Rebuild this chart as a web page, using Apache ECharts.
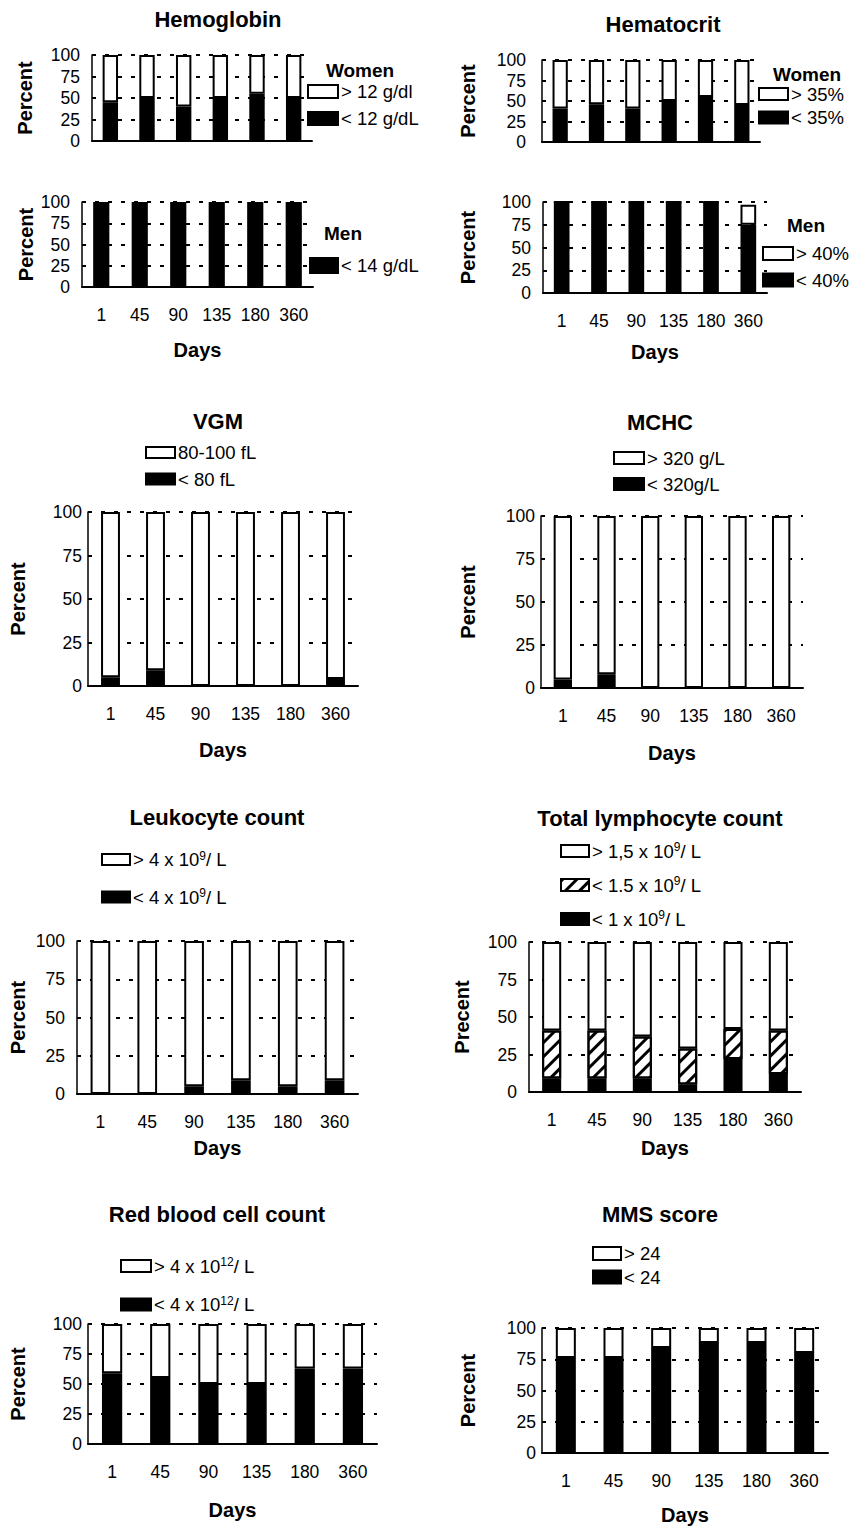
<!DOCTYPE html>
<html><head><meta charset="utf-8">
<script src="https://cdn.jsdelivr.net/npm/echarts@6/dist/echarts.min.js"></script>
<style>html,body{margin:0;padding:0;background:#fff}#c{width:851px;height:1526px}</style>
</head><body><div id="c"></div>
<script>
// ---------- data ----------
const days = ['1', '45', '90', '135', '180', '360'];
const yTicks = [0, 25, 50, 75, 100];

const hbWomenLow  = [45, 50, 40, 50, 55, 50];
const hbWomenHigh = [55, 50, 60, 50, 45, 50];
const hbMenLow    = [100, 100, 100, 100, 100, 100];

const htWomenLow  = [41, 46, 41, 50, 55, 45];
const htWomenHigh = [59, 54, 59, 50, 45, 55];
const htMenLow    = [100, 100, 100, 100, 100, 75];
const htMenHigh   = [0, 0, 0, 0, 0, 22];

const vgmLow    = [5, 9, 0, 0, 0, 4];
const vgmNormal = [95, 91, 100, 100, 100, 96];

const mchcLow  = [5, 8, 0, 0, 0, 0];
const mchcHigh = [95, 92, 100, 100, 100, 100];

const leukLow  = [0, 0, 5, 9, 5, 9];
const leukHigh = [100, 100, 95, 91, 95, 91];

const lymphBelow1  = [9, 9, 9, 5, 22, 12];
const lymphBelow15 = [32, 32, 28, 24, 20, 29];
const lymphAbove15 = [59, 59, 63, 71, 58, 59];

const rbcLow  = [59, 55, 50, 50, 63, 63];
const rbcHigh = [41, 45, 50, 50, 37, 37];

const mmsLow  = [76, 76, 84, 88, 88, 80];
const mmsHigh = [24, 24, 16, 12, 12, 20];

// ---------- styling / layout ----------
const FONT = '"Liberation Sans", Arial, Helvetica, sans-serif';
const W = {kind: 'white'}, B = {kind: 'black'}, H = {kind: 'hatch'};

const panels = [
  {grid: {left: 92, top: 55, width: 220, height: 86}, xLabels: false, yName: 'Percent', yGap: 57, yMargin: 12,
   series: [{name: '< 12 g/dL', data: hbWomenLow, ...B}, {name: '> 12 g/dl', data: hbWomenHigh, ...W}],
   legend: {left: 307, top: 81.5, gap: 7, w: 30, h: 13, items: ['> 12 g/dl', '< 12 g/dL']}},
  {grid: {left: 82, top: 202, width: 231, height: 85}, xLabels: true, xGap: 53, yName: 'Percent', yGap: 46, yMargin: 12,
   series: [{name: '< 14 g/dL', data: hbMenLow, ...B}],
   legend: {left: 309, top: 255.5, gap: 7, w: 28, h: 15, items: ['< 14 g/dL']}},
  {grid: {left: 542, top: 60, width: 218, height: 82}, xLabels: false, yName: 'Percent', yGap: 64, yMargin: 16,
   series: [{name: '< 35%', data: htWomenLow, ...B}, {name: '> 35%', data: htWomenHigh, ...W}],
   legend: {left: 758, top: 84, gap: 3.5, w: 29, h: 12, items: ['> 35%', '< 35%']}},
  {grid: {left: 543, top: 202, width: 224, height: 91}, xLabels: true, xGap: 49, yName: 'Percent', yGap: 65, yMargin: 12,
   series: [{name: '< 40%', data: htMenLow, ...B}, {name: '> 40%', data: htMenHigh, ...W}],
   legend: {left: 762, top: 243.5, gap: 6.5, w: 30, h: 13, items: ['> 40%', '< 40%']}},
  {grid: {left: 88, top: 512, width: 270, height: 174}, xLabels: true, xGap: 54, yName: 'Percent', yGap: 60, yMargin: 6,
   series: [{name: '< 80 fL', data: vgmLow, ...B}, {name: '80-100 fL', data: vgmNormal, ...W}],
   legend: {left: 145, top: 442.5, gap: 6.5, w: 29, h: 11, items: ['80-100 fL', '< 80 fL']}},
  {grid: {left: 541, top: 516, width: 262, height: 172}, xLabels: true, xGap: 55, yName: 'Percent', yGap: 63, yMargin: 6,
   series: [{name: '< 320g/L', data: mchcLow, ...B}, {name: '> 320 g/L', data: mchcHigh, ...W}],
   legend: {left: 613, top: 448, gap: 6, w: 30, h: 12, items: ['> 320 g/L', '< 320g/L']}},
  {grid: {left: 77, top: 941, width: 281, height: 153}, xLabels: true, xGap: 44, yName: 'Percent', yGap: 49, yMargin: 12,
   series: [{name: '< 4 x 10{sup|9}/ L', data: leukLow, ...B}, {name: '> 4 x 10{sup|9}/ L', data: leukHigh, ...W}],
   legend: {left: 101, top: 849.5, gap: 13.5, w: 28, h: 11, items: ['> 4 x 10{sup|9}/ L', '< 4 x 10{sup|9}/ L']}},
  {grid: {left: 529, top: 942, width: 272, height: 150}, xLabels: true, xGap: 46, yName: 'Precent', yGap: 57, yMargin: 12,
   series: [{name: '< 1 x 10{sup|9}/ L', data: lymphBelow1, ...B}, {name: '< 1.5 x 10{sup|9}/ L', data: lymphBelow15, ...H},
            {name: '> 1,5 x 10{sup|9}/ L', data: lymphAbove15, ...W}],
   legend: {left: 560, top: 841, gap: 10, w: 28, h: 12, items: ['> 1,5 x 10{sup|9}/ L', '< 1.5 x 10{sup|9}/ L', '< 1 x 10{sup|9}/ L']}},
  {grid: {left: 88, top: 1324, width: 289, height: 120}, xLabels: true, xGap: 56, yName: 'Percent', yGap: 60, yMargin: 6,
   series: [{name: '< 4 x 10{sup|12}/ L', data: rbcLow, ...B}, {name: '> 4 x 10{sup|12}/ L', data: rbcHigh, ...W}],
   legend: {left: 120, top: 1256, gap: 14.5, w: 30, h: 12, items: ['> 4 x 10{sup|12}/ L', '< 4 x 10{sup|12}/ L']}},
  {grid: {left: 542, top: 1328, width: 286, height: 125}, xLabels: true, xGap: 52, yName: 'Percent', yGap: 64, yMargin: 6,
   series: [{name: '< 24', data: mmsLow, ...B}, {name: '> 24', data: mmsHigh, ...W}],
   legend: {left: 592, top: 1243.5, gap: 3.5, w: 28, h: 13, items: ['> 24', '< 24']}}
];

const titles = [
  {text: 'Hemoglobin', x: 218, y: 8, size: 22},
  {text: 'Hematocrit', x: 663, y: 13, size: 22},
  {text: 'VGM', x: 218, y: 410, size: 22},
  {text: 'MCHC', x: 660, y: 411, size: 22},
  {text: 'Leukocyte count', x: 217, y: 806, size: 22},
  {text: 'Total lymphocyte count', x: 660, y: 807, size: 22},
  {text: 'Red blood cell count', x: 217, y: 1203, size: 22},
  {text: 'MMS score', x: 660, y: 1203, size: 22},
  {text: 'Women', x: 360, y: 61, size: 19},
  {text: 'Men', x: 343, y: 224, size: 19},
  {text: 'Women', x: 807, y: 65, size: 19},
  {text: 'Men', x: 806, y: 216, size: 19}
];

const hatchDecal = {
  symbol: 'rect', symbolSize: 1,
  dashArrayX: [[1, 0]], dashArrayY: [2.5, 7],
  rotation: -Math.PI / 4, color: '#000', backgroundColor: '#fff'
};
function styleFor(kind) {
  if (kind === 'black') return {color: '#000', borderColor: '#000', borderWidth: 2};
  if (kind === 'hatch') return {color: '#fff', borderColor: '#000', borderWidth: 2, decal: hatchDecal};
  return {color: '#fff', borderColor: '#000', borderWidth: 2};
}

const option = {
  backgroundColor: '#fff',
  animation: false,
  textStyle: {fontFamily: FONT, color: '#000'},
  title: titles.map(t => ({
    text: t.text, left: t.x, top: t.y, textAlign: 'center', padding: 0,
    textStyle: {fontFamily: FONT, fontWeight: 'bold', fontSize: t.size, color: '#000'}
  })),
  grid: panels.map(p => Object.assign({containLabel: false}, p.grid)),
  xAxis: panels.map((p, i) => ({
    type: 'category', gridIndex: i, data: days, boundaryGap: true,
    name: p.xLabels ? 'Days' : '', nameLocation: 'middle', nameGap: p.xGap || 0,
    nameTextStyle: {fontFamily: FONT, fontWeight: 'bold', fontSize: 20, color: '#000'},
    axisLine: {show: true, lineStyle: {color: '#000', width: 2}},
    axisTick: {show: false},
    axisLabel: {show: p.xLabels, interval: 0, hideOverlap: false, margin: 19, fontFamily: FONT, fontSize: 17.5, color: '#000'},
    splitLine: {show: false}
  })),
  yAxis: panels.map((p, i) => ({
    type: 'value', gridIndex: i, min: yTicks[0], max: yTicks[yTicks.length - 1],
    interval: yTicks[1] - yTicks[0],
    name: p.yName, nameLocation: 'middle', nameGap: p.yGap,
    nameTextStyle: {fontFamily: FONT, fontWeight: 'bold', fontSize: 20, color: '#000'},
    axisLine: {show: true, lineStyle: {color: '#000', width: 1.5}},
    axisTick: {show: false},
    axisLabel: {margin: p.yMargin, fontFamily: FONT, fontSize: 17.5, color: '#000'},
    splitLine: {show: true, lineStyle: {color: '#000', width: 2, type: [4, 9]}}
  })),
  legend: panels.map(p => ({
    orient: 'vertical', left: p.legend.left, top: p.legend.top, padding: 0,
    itemGap: p.legend.gap, itemWidth: p.legend.w, itemHeight: p.legend.h,
    selectedMode: false, icon: 'rect', data: p.legend.items,
    formatter: n => n,
    textStyle: {
      fontFamily: FONT, fontSize: 18.5, color: '#000', lineHeight: 20, padding: [0, 0, 0, -2],
      rich: {sup: {fontFamily: FONT, fontSize: 12, color: '#000', verticalAlign: 'top', lineHeight: 20, padding: [0, 0, 12, 0]}}
    }
  })),
  series: []
};

panels.forEach((p, i) => {
  p.series.forEach(s => {
    option.series.push({
      type: 'bar', name: s.name, xAxisIndex: i, yAxisIndex: i, stack: 'p' + i,
      data: s.data, barWidth: '42%', itemStyle: styleFor(s.kind), emphasis: {disabled: true}
    });
  });
});

const chart = echarts.init(document.getElementById('c'), null, {renderer: 'svg', width: 851, height: 1526});
chart.setOption(option);
</script></body></html>
